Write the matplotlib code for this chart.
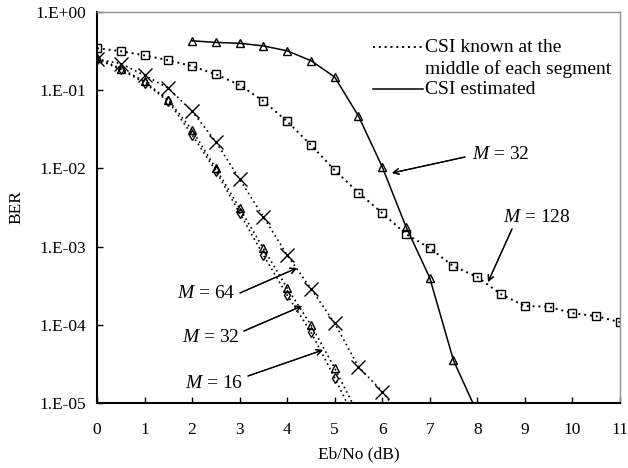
import numpy as np
import matplotlib.pyplot as plt
from matplotlib.ticker import FixedLocator, FuncFormatter

plt.rcParams['font.family'] = ['Liberation Serif', 'DejaVu Serif']
plt.rcParams['mathtext.fontset'] = 'custom'
plt.rcParams['mathtext.rm'] = 'Liberation Serif'
plt.rcParams['mathtext.it'] = 'Liberation Serif:italic'

# data (Eb/No in dB, BER)
x128 = [0, 0.5, 1, 1.5, 2, 2.5, 3, 3.5, 4, 4.5, 5, 5.5, 6, 6.5, 7, 7.5, 8, 8.5, 9, 9.5, 10, 10.5, 11]
ber128 = [0.345, 0.317, 0.28, 0.243, 0.204, 0.16, 0.117, 0.073, 0.04, 0.02, 0.0095, 0.0049,
          0.0027, 0.00145, 0.00096, 0.00056, 0.00041, 0.000246, 0.000174, 0.00017, 0.000141,
          0.000129, 0.000108]

x64 = [0, 0.5, 1, 1.5, 2, 2.5, 3, 3.5, 4, 4.5, 5, 5.5, 6, 6.5]
ber64 = [0.25, 0.22, 0.156, 0.107, 0.054, 0.022, 0.0073, 0.0024, 0.00078, 0.00029, 0.000105,
         2.9e-5, 1.4e-5, 5.5e-6]

x32 = [0, 0.5, 1, 1.5, 2, 2.5, 3, 3.5, 4, 4.5, 5, 5.5]
ber32 = [0.26, 0.19, 0.13, 0.075, 0.031, 0.01, 0.0031, 0.00095, 0.000295, 0.0001, 2.8e-5, 7e-6]

x16 = [0, 0.5, 1, 1.5, 2, 2.5, 3, 3.5, 4, 4.5, 5, 5.5]
ber16 = [0.25, 0.185, 0.125, 0.072, 0.027, 0.0093, 0.0027, 0.00078, 0.00024, 8.1e-5, 2.1e-5, 5e-6]

x32est = [2, 2.5, 3, 3.5, 4, 4.5, 5, 5.5, 6, 6.5, 7, 7.5, 8]
ber32est = [0.43, 0.41, 0.40, 0.37, 0.32, 0.24, 0.148, 0.047, 0.0105, 0.0018, 0.0004, 3.5e-5, 7.5e-6]

xticks = list(range(0, 12))
yticks = [1e-5, 1e-4, 1e-3, 1e-2, 1e-1, 1e0]

fig = plt.figure(figsize=(6.28, 4.68), dpi=100)
ax = fig.add_axes([0.1545, 0.139, 0.8325, 0.835])

dot = (0, (1, 2))
mk = dict(markerfacecolor='none', markeredgecolor='black', markeredgewidth=1.0, color='black')
ax.plot(x128, ber128, linestyle=dot, lw=1.4, marker='s', ms=6, **mk)
ax.plot(x64, ber64, linestyle=dot, lw=1.2, marker='x', ms=9.5, **mk)
ax.plot(x32, ber32, linestyle=dot, lw=1.2, marker='^', ms=6, **mk)
ax.plot(x16, ber16, linestyle=dot, lw=1.2, marker='d', ms=5, **mk)
ax.plot(x32est, ber32est, linestyle='-', lw=1.1, marker='^', ms=6, **mk)

ax.set_yscale('log')
ax.set_xlim(0, 11)
ax.set_ylim(1e-5, 1)
ax.xaxis.set_major_locator(FixedLocator(xticks))
ax.yaxis.set_major_locator(FixedLocator(yticks))
ax.yaxis.set_minor_locator(FixedLocator([]))


def sci(v, pos):
    e = int(round(np.log10(v)))
    return '1.E%s%02d' % ('+' if e >= 0 else '-', abs(e))


ax.yaxis.set_major_formatter(FuncFormatter(sci))
ax.tick_params(direction='in', length=4, width=1, labelsize=12.5)
ax.tick_params(axis='x', pad=14)
ax.tick_params(axis='y', pad=8)

for s in ['left', 'bottom']:
    ax.spines[s].set_color('black')
    ax.spines[s].set_linewidth(1.5)
for s in ['top', 'right']:
    ax.spines[s].set_color('#909090')
    ax.spines[s].set_linewidth(1.0)

ax.set_xlabel('Eb/No (dB)', fontsize=12.5, labelpad=6)
ax.set_ylabel('BER', fontsize=12.5, labelpad=8)

# legend drawn by hand (figure pixel coords)
ftr = fig.transFigure
W, H = 628, 468


def fp(px, py):
    return (px / W, 1 - py / H)


fig.add_artist(plt.Line2D([373 / W, 423 / W], [1 - 47 / H] * 2, transform=ftr,
                          color='black', lw=1.4, linestyle=dot))
fig.add_artist(plt.Line2D([373 / W, 423 / W], [1 - 89 / H] * 2, transform=ftr,
                          color='black', lw=1.1))
fig.text(*fp(425, 47), 'CSI known at the', fontsize=14, va='center')
fig.text(*fp(425, 69), 'middle of each segment', fontsize=14, va='center')
fig.text(*fp(425, 89), 'CSI estimated', fontsize=14, va='center')

# annotations
arr = dict(arrowstyle='->', color='black', lw=0.9, shrinkA=0, shrinkB=0)
notes = [
    ('$M$ = 32', (472, 155), (465, 157), (392, 173)),
    ('$M$ = 128', (503, 217), (512, 229), (488, 282)),
    ('$M$ = 64', (177, 293), (240, 293), (297, 268)),
    ('$M$ = 32', (182, 337), (244, 331), (302, 306)),
    ('$M$ = 16', (185, 383), (248, 376), (323, 350)),
]
for txt, tpos, start, tip in notes:
    fig.text(*fp(*tpos), txt, fontsize=14, va='center', ha='left')
    fig.add_artist(plt.annotate('', xy=fp(*tip), xycoords=ftr, xytext=fp(*start),
                                textcoords=ftr, arrowprops=arr))

fig.savefig('out.png', dpi=100)
